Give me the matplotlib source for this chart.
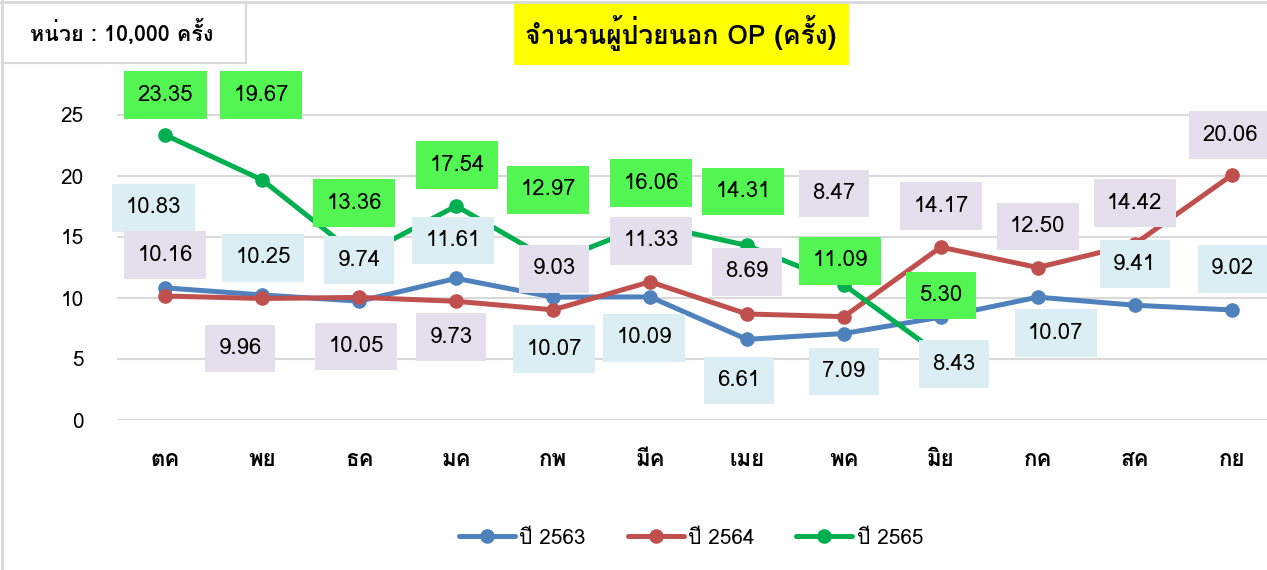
import matplotlib
matplotlib.use('Agg')
import matplotlib.pyplot as plt
from matplotlib.patches import Rectangle
from matplotlib.lines import Line2D

# ---------------- data ----------------
months = ['ตค', 'พย', 'ธค', 'มค', 'กพ', 'มีค', 'เมย', 'พค', 'มิย', 'กค', 'สค', 'กย']
y2563 = [10.83, 10.25, 9.74, 11.61, 10.07, 10.09, 6.61, 7.09, 8.43, 10.07, 9.41, 9.02]
y2564 = [10.16, 9.96, 10.05, 9.73, 9.03, 11.33, 8.69, 8.47, 14.17, 12.50, 14.42, 20.06]
y2565 = [23.35, 19.67, 13.36, 17.54, 12.97, 16.06, 14.31, 11.09, 5.30]
series_names = ['ปี 2563', 'ปี 2564', 'ปี 2565']
title_text = 'จำนวนผู้ป่วยนอก OP (ครั้ง)'
unit_text = 'หน่วย : 10,000 ครั้ง'
yticks = [0, 5, 10, 15, 20, 25]

# ---------------- style ----------------
W, H = 1267, 570
line_colors = ['#4F81BD', '#C0504D', '#00B050']
box_colors = ['#DAEEF3', '#E4DFEC', '#52F552']
# label offsets (pixels, image-down positive) relative to each point
off_2563 = [(-12, -80), (1, -37), (0, -41), (-3, -38), (1, 52), (-6, 41), (-8, 41), (0, 38), (13, 47), (18, 36), (0, -41), (1, -41)]
off_2564 = [(0, -41), (-22, 50), (-3, 49), (-5, 36), (1, -41), (1, -41), (0, -42), (-10, -123), (0, -41), (0, -41), (0, -41), (-1, -40)]
off_2565 = [(0, -40), (-1, -85), (-5, -54), (1, -41), (-5, -72), (1, -41), (-4, -54), (-4, -24), (0, -60)]

FAM = ['Loma', 'Liberation Sans', 'DejaVu Sans']
plt.rcParams['font.family'] = FAM

fig = plt.figure(figsize=(W / 100, H / 100), dpi=100)

# outer frame
fig.add_artist(Line2D([0, 1], [1 - 1.5 / H, 1 - 1.5 / H], transform=fig.transFigure, color='#d9d9d9', lw=2))
fig.add_artist(Line2D([1.5 / W, 1.5 / W], [0, 1], transform=fig.transFigure, color='#d9d9d9', lw=2))

ax = fig.add_axes([117 / W, 150 / H, 1163 / W, (420 - 78.4) / H])
x = list(range(len(months)))

series = [y2563, y2564, y2565]
offs = [off_2563, off_2564, off_2565]
for i, (vals, c) in enumerate(zip(series, line_colors)):
    ax.plot(x[:len(vals)], vals, color=c, lw=3.6, marker='o', ms=9.5,
            solid_capstyle='round', zorder=3 + i)

for i, (vals, off, bc) in enumerate(zip(series, offs, box_colors)):
    for xi, v, (dx, dy) in zip(x, vals, off):
        ax.annotate(f'{v:.2f}', (xi, v), xytext=(dx, -dy), textcoords='offset pixels',
                    ha='center', va='center', fontsize=16, color='black',
                    zorder=10 + i, annotation_clip=False,
                    bbox=dict(boxstyle='square,pad=0.6', fc=bc, ec='none'))

ax.set_xlim(-0.5, len(months) - 0.5)
ax.set_ylim(0, 28)
ax.set_yticks(yticks)
ax.set_xticks(x)
ax.set_xticklabels(months, fontsize=16, fontweight='bold')
ax.set_yticklabels([str(t) for t in yticks], fontsize=15)
ax.tick_params(axis='y', length=0, pad=23.8)
ax.tick_params(axis='x', length=0, pad=21.5)
ax.grid(axis='y', color='#d9d9d9', lw=1.5)
ax.set_axisbelow(True)
for s in ax.spines.values():
    s.set_visible(False)

# title box
fig.add_artist(Rectangle((514 / W, 1 - 65 / H), 335 / W, 62 / H, transform=fig.transFigure,
                         fc='#FFFF00', ec='none'))
fig.text(681 / W, 1 - 33 / H, title_text, ha='center', va='center', fontsize=19,
         fontweight='bold')

# unit box
fig.add_artist(Rectangle((1.5 / W, 1 - 63 / H), 244 / W, 61 / H, transform=fig.transFigure,
                         fc='white', ec='#d9d9d9', lw=1.5))
fig.text(122 / W, 1 - 32 / H, unit_text, ha='center', va='center', fontsize=15.5,
         fontweight='bold')

handles = [Line2D([], [], color=c, lw=3.6, marker='o', ms=9.5, solid_capstyle='round') for c in line_colors]
fig.legend(handles, series_names, loc='center', bbox_to_anchor=(691 / W, 1 - 538 / H),
           ncol=3, frameon=False, handlelength=2.7, handletextpad=0.2, columnspacing=2.0,
           prop=dict(size=15))

fig.savefig('out.png', dpi=100)
